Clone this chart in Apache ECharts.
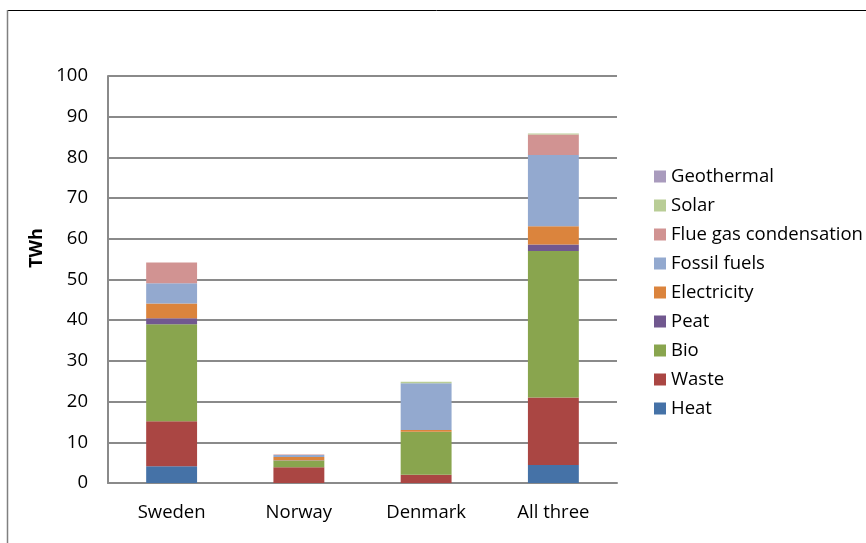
<!DOCTYPE html>
<html>
<head>
<meta charset="utf-8">
<script src="https://cdn.jsdelivr.net/npm/echarts@6/dist/echarts.min.js"></script>
<style>
html,body{margin:0;padding:0;background:#fff;}
#chart{width:866px;height:543px;}
</style>
</head>
<body>
<div id="chart"></div>
<script>
const categories = ['Sweden', 'Norway', 'Denmark', 'All three'];
const heat        = [4.1, 0,   0,    4.4];
const waste       = [11.1, 3.9, 2.0, 16.6];
const bio         = [23.8, 1.6, 10.6, 36.0];
const peat        = [1.5, 0.1, 0,    1.6];
const electricity = [3.6, 0.8, 0.4,  4.5];
const fossil      = [5.0, 0.5, 11.5, 17.5];
const flueGas     = [5.1, 0.1, 0,    5.0];
const solar       = [0,   0,   0.4,  0.3];
const geothermal  = [0,   0,   0,    0];
const yTicks = [0, 10, 20, 30, 40, 50, 60, 70, 80, 90, 100];
const yAxisTitle = 'TWh';

const seriesDefs = [
  ['Heat', heat, '#4572A7'],
  ['Waste', waste, '#AA4643'],
  ['Bio', bio, '#89A54E'],
  ['Peat', peat, '#71588F'],
  ['Electricity', electricity, '#DB843D'],
  ['Fossil fuels', fossil, '#93A9CF'],
  ['Flue gas condensation', flueGas, '#D19392'],
  ['Solar', solar, '#B9CD96'],
  ['Geothermal', geothermal, '#A99BBD']
];

const FONT = '"Open Sans", Lato, sans-serif';
const FS = 18.5;
const chart = echarts.init(document.getElementById('chart'), null, {renderer: 'canvas'});
chart.setOption({
  animation: false,
  backgroundColor: '#fff',
  textStyle: {fontFamily: FONT},
  grid: {left: 108, right: 249, top: 76, bottom: 60, containLabel: false},
  legend: {
    orient: 'vertical',
    left: 654,
    top: 166,
    padding: 0,
    itemWidth: 12,
    itemHeight: 12,
    itemGap: 8,
    icon: 'rect',
    data: seriesDefs.map(s => s[0]).reverse(),
    textStyle: {fontFamily: FONT, fontSize: FS, color: '#000', lineHeight: 21}
  },
  xAxis: {
    type: 'category',
    data: categories,
    axisLine: {show: true, lineStyle: {color: '#8a8a8a', width: 2}},
    axisTick: {show: false},
    axisLabel: {fontFamily: FONT, fontSize: FS, color: '#000', margin: 20}
  },
  yAxis: {
    type: 'value',
    min: yTicks[0],
    max: yTicks[yTicks.length - 1],
    interval: 10,
    axisLine: {show: true, lineStyle: {color: '#8a8a8a', width: 2}},
    axisTick: {show: false},
    axisLabel: {fontFamily: FONT, fontSize: FS, color: '#000', margin: 20},
    splitLine: {show: true, lineStyle: {color: '#8a8a8a', width: 2}}
  },
  series: seriesDefs.map(([name, data, color]) => ({
    name: name,
    type: 'bar',
    stack: 'total',
    data: data,
    barWidth: '40%',
    itemStyle: {color: color}
  })),
  graphic: [
    {type: 'line', shape: {x1: 7, y1: 10.5, x2: 866, y2: 10.5}, style: {stroke: '#000', lineWidth: 1}, silent: true},
    {type: 'line', shape: {x1: 7.5, y1: 10, x2: 7.5, y2: 543}, style: {stroke: '#808080', lineWidth: 1.5}, silent: true},
    {type: 'text', x: 36.5, y: 248, rotation: Math.PI / 2, silent: true,
     style: {text: yAxisTitle, font: 'bold 18px ' + FONT, fill: '#000', align: 'center', verticalAlign: 'middle'}}
  ]
});
</script>
</body>
</html>
